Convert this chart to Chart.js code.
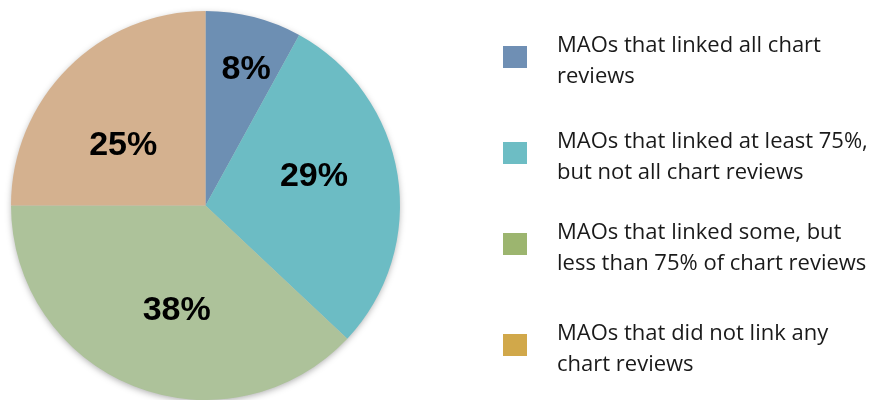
<!DOCTYPE html>
<html>
<head>
<meta charset="utf-8">
<script src="https://cdn.jsdelivr.net/npm/chart.js@4"></script>
<style>
  html, body { margin: 0; padding: 0; background: #ffffff; overflow: hidden; }
  #wrap { width: 875px; height: 400px; position: relative; }
</style>
</head>
<body>
<div id="wrap"><canvas id="pieChart"></canvas></div>
<script>
// data
const categories = [
    ["MAOs that linked all chart", "reviews"],
    ["MAOs that linked at least 75%,", "but not all chart reviews"],
    ["MAOs that linked some, but", "less than 75% of chart reviews"],
    ["MAOs that did not link any", "chart reviews"],
];
const shares = [8, 29, 38, 25];
const sliceColors = ["#6d8fb3", "#6cbcc4", "#adc29a", "#d4b18f"];
const legendColors = ["#6f8fb4", "#6dbdc4", "#9cb56f", "#d1a84a"];

// label placement (fraction of radius, angle nudge in degrees)
const labelRadius = [0.74, 0.58, 0.55, 0.53];
const labelNudge = [2, -7, -6, -8];
const legendY = [57, 153, 244, 345];

const pieShadow = {
    id: "pieShadow",
    beforeDatasetsDraw(chart) {
        const arc = chart.getDatasetMeta(0).data[0];
        if (!arc) return;
        const ctx = chart.ctx;
        ctx.save();
        ctx.shadowColor = "rgba(0,0,0,0.35)";
        ctx.shadowBlur = 7;
        ctx.shadowOffsetY = 2;
        ctx.fillStyle = "#c8c8c8";
        ctx.beginPath();
        ctx.arc(arc.x, arc.y, arc.outerRadius - 1, 0, Math.PI * 2);
        ctx.fill();
        ctx.restore();
    },
};

const sliceLabels = {
    id: "sliceLabels",
    afterDatasetsDraw(chart) {
        const ctx = chart.ctx;
        const meta = chart.getDatasetMeta(0);
        ctx.save();
        ctx.font = "bold 34px 'Liberation Sans', Arial, sans-serif";
        ctx.fillStyle = "#000000";
        ctx.textAlign = "center";
        ctx.textBaseline = "middle";
        meta.data.forEach((arc, i) => {
            const mid = (arc.startAngle + arc.endAngle) / 2 + labelNudge[i] * Math.PI / 180;
            const r = arc.outerRadius * labelRadius[i];
            const x = arc.x + r * Math.cos(mid);
            const y = arc.y + r * Math.sin(mid);
            ctx.fillText(shares[i] + "%", x, y + 2);
        });
        ctx.restore();
    },
};

const sideLegend = {
    id: "sideLegend",
    afterDraw(chart) {
        const ctx = chart.ctx;
        ctx.save();
        ctx.font = "22px 'Open Sans', sans-serif";
        ctx.textAlign = "left";
        ctx.textBaseline = "alphabetic";
        categories.forEach((lines, i) => {
            const cy = legendY[i];
            ctx.fillStyle = legendColors[i];
            ctx.fillRect(503, cy - 11, 24, 22);
            ctx.fillStyle = "#1a1a1a";
            lines.forEach((line, j) => {
                ctx.fillText(line, 557, cy - 5 + j * 31);
            });
        });
        ctx.restore();
    },
};

new Chart(document.getElementById("pieChart"), {
    type: "pie",
    data: {
        labels: categories,
        datasets: [{
            data: shares,
            backgroundColor: sliceColors,
            borderWidth: 0,
        }],
    },
    options: {
        responsive: true,
        maintainAspectRatio: false,
        animation: false,
        layout: {
            padding: { left: 11, right: 475, top: 11, bottom: 0 },
        },
        plugins: {
            legend: { display: false },
            tooltip: { enabled: false },
        },
    },
    plugins: [pieShadow, sliceLabels, sideLegend],
});
</script>
</body>
</html>
